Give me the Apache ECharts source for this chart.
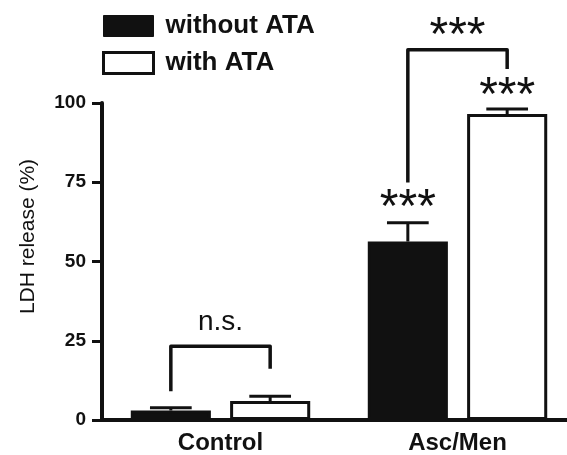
<!DOCTYPE html>
<html>
<head>
<meta charset="utf-8">
<script src="https://cdn.jsdelivr.net/npm/echarts@6/dist/echarts.min.js"></script>
<style>
html,body{margin:0;padding:0;background:#fff;}
#chart{width:567px;height:455px;}
</style>
</head>
<body>
<div id="chart"></div>
<script>
// ---- data ----
const categories = ['Control', 'Asc/Men'];
const seriesNames = ['without ATA', 'with ATA'];
const withoutATA = [3.0, 56.3];
const withoutATAErr = [0.9, 5.9];
const withATA = [6.0, 96.5];
const withATAErr = [1.5, 1.6];
const yMin = 0, yMax = 100, yInterval = 25;
const yAxisTitle = 'LDH release (%)';

// significance brackets (y in data units)
const bracketCategory = [0, 1];
const bracketLeftBottom = [9.1, 74.9];
const bracketTop = [23.3, 116.8];
const bracketRightBottom = [16.2, 110.7];

// significance labels
const sigText = ['n.s.', '***', '***', '***'];
const sigCategory = [0, 1, 1, 1];
const sigSide = [0, 0, -1, 1];
const sigY = [30.8, 120.9, 66.5, 102.0];

// ---- style ----
const INK = '#111';
const FONT = '"Liberation Sans", Arial, sans-serif';
const BAR_W = 0.338, BAR_GAP = 0.24;

function sideOffset(api, side) {
  const band = api.size([1, 0])[0];
  return side * band * BAR_W * (1 + BAR_GAP) / 2;
}

function errorSeries(values, errs, side) {
  return {
    type: 'custom',
    clip: false,
    z: 5,
    silent: true,
    data: values.map((v, i) => [i, v, errs[i]]),
    renderItem: function (params, api) {
      const c = api.value(0), v = api.value(1), e = api.value(2);
      const dx = sideOffset(api, side);
      const p0 = api.coord([c, v]);
      const p1 = api.coord([c, v + e]);
      const x = p0[0] + dx;
      const capHalf = api.size([1, 0])[0] * 0.088;
      return {
        type: 'group',
        children: [
          { type: 'line', shape: { x1: x, y1: p0[1], x2: x, y2: p1[1] }, style: { stroke: INK, lineWidth: 3 } },
          { type: 'line', shape: { x1: x - capHalf, y1: p1[1], x2: x + capHalf, y2: p1[1] }, style: { stroke: INK, lineWidth: 3 } }
        ]
      };
    }
  };
}

const chart = echarts.init(document.getElementById('chart'), null, { renderer: 'canvas' });

const option = {
  animation: false,
  backgroundColor: '#fff',
  textStyle: { fontFamily: FONT },
  grid: { left: 102, width: 474, top: 103, bottom: 35, containLabel: false, outerBoundsMode: 'none' },
  legend: {
    orient: 'vertical',
    left: 102,
    top: 13,
    padding: 0,
    itemWidth: 50,
    itemHeight: 21,
    itemGap: 11,
    selectedMode: false,
    textStyle: { fontFamily: FONT, fontSize: 26, fontWeight: 'bold', color: INK, padding: [0, 0, 0, 7] },
    data: [
      { name: seriesNames[0], icon: 'rect', itemStyle: { color: INK, borderColor: INK, borderWidth: 1 } },
      { name: seriesNames[1], icon: 'rect', itemStyle: { color: '#fff', borderColor: INK, borderWidth: 3 } }
    ]
  },
  xAxis: {
    type: 'category',
    data: categories,
    boundaryGap: true,
    axisLine: { lineStyle: { color: INK, width: 4 } },
    axisTick: { alignWithLabel: true, length: 8, lineStyle: { color: INK, width: 3 } },
    axisLabel: { color: INK, fontFamily: FONT, fontSize: 24, fontWeight: 'bold', margin: 11 },
    splitLine: { show: false }
  },
  yAxis: {
    type: 'value',
    min: yMin,
    max: yMax,
    interval: yInterval,
    name: yAxisTitle,
    nameLocation: 'middle',
    nameRotate: 90,
    nameGap: 63,
    nameTextStyle: { color: INK, fontFamily: FONT, fontSize: 21, padding: [0, 0, 0, 50] },
    axisLine: { show: true, lineStyle: { color: INK, width: 4 } },
    axisTick: { show: true, length: 10, lineStyle: { color: INK, width: 3 } },
    axisLabel: { color: INK, fontFamily: FONT, fontSize: 19, fontWeight: 'bold', margin: 16 },
    splitLine: { show: false }
  },
  series: [
    {
      name: seriesNames[0],
      type: 'bar',
      data: withoutATA,
      barWidth: (BAR_W * 100) + '%',
      barGap: (BAR_GAP * 100) + '%',
      itemStyle: { color: INK, borderColor: INK, borderWidth: 3 },
      z: 3
    },
    {
      name: seriesNames[1],
      type: 'bar',
      data: withATA,
      barWidth: (BAR_W * 100) + '%',
      barGap: (BAR_GAP * 100) + '%',
      itemStyle: { color: '#fff', borderColor: INK, borderWidth: 3 },
      z: 3
    },
    errorSeries(withoutATA, withoutATAErr, -1),
    errorSeries(withATA, withATAErr, 1),
    {
      type: 'custom',
      clip: false,
      silent: true,
      z: 6,
      data: bracketCategory.map((c, i) => [c, bracketLeftBottom[i], bracketTop[i], bracketRightBottom[i]]),
      renderItem: function (params, api) {
        const c = api.value(0);
        const dl = sideOffset(api, -1), dr = sideOffset(api, 1);
        const pl = api.coord([c, api.value(1)]);
        const pt = api.coord([c, api.value(2)]);
        const pr = api.coord([c, api.value(3)]);
        return {
          type: 'polyline',
          shape: { points: [[pl[0] + dl, pl[1]], [pl[0] + dl, pt[1]], [pl[0] + dr, pt[1]], [pl[0] + dr, pr[1]]] },
          style: { stroke: INK, lineWidth: 3.5, fill: null, lineJoin: 'round' }
        };
      }
    },
    {
      type: 'custom',
      clip: false,
      silent: true,
      z: 6,
      data: sigCategory.map((c, i) => [c, sigSide[i], sigY[i]]),
      renderItem: function (params, api) {
        const c = api.value(0), side = api.value(1);
        const p = api.coord([c, api.value(2)]);
        const t = sigText[params.dataIndex];
        const isStar = t.indexOf('*') >= 0;
        return {
          type: 'text',
          x: p[0] + sideOffset(api, side),
          y: p[1],
          style: {
            text: t,
            fill: INK,
            font: (isStar ? '48px ' : '28px ') + FONT,
            align: 'center',
            verticalAlign: 'middle'
          }
        };
      }
    }
  ]
};

chart.setOption(option);
</script>
</body>
</html>
